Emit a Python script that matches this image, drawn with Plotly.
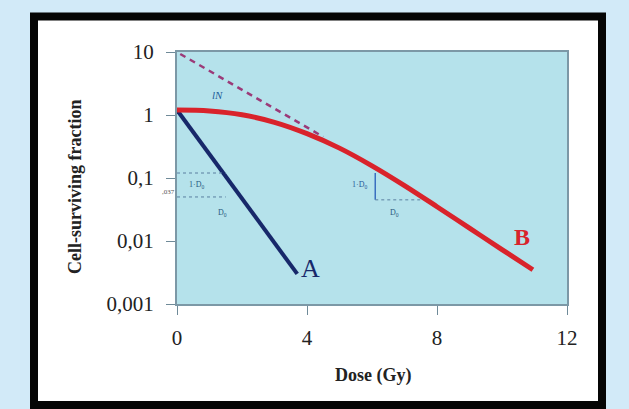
import math
import plotly.graph_objects as go

# ---- data ----
dose_a = [0.0, 3.7]
sf_a = [1.2, 0.003]

dose_b = [0, 1, 2, 3, 4, 5, 6, 7, 8, 9, 10, 10.95]
sf_b = [1.2, 1.159, 1.009, 0.766, 0.506, 0.298, 0.156, 0.0757, 0.035, 0.016, 0.00731, 0.0035]

dose_ext = [0.1, 4.5]
sf_ext = [9.3, 0.45]

x_ticks = [0, 4, 8, 12]
y_ticks = [0.001, 0.01, 0.1, 1, 10]
y_ticktext = ["0,001", "0,01", "0,1", "1", "10"]

W, H = 629, 409
L, R, T, B = 177, 567, 52, 304  # plot area in pixels


def px(xp):
    return (xp - L) / (R - L)


def py(yp):
    return (B - yp) / (B - T)


lg = math.log10

SERIF = "Liberation Serif, Times New Roman, serif"
LIGHT = "#d2eaf8"

fig = go.Figure()

fig.add_trace(go.Scatter(x=dose_ext, y=sf_ext, mode="lines",
                         line=dict(color="#9b3a78", width=2.5, dash="6px,5px"),
                         hoverinfo="skip", showlegend=False))
fig.add_trace(go.Scatter(x=dose_a, y=sf_a, mode="lines",
                         line=dict(color="#17286a", width=4),
                         showlegend=False))
fig.add_trace(go.Scatter(x=dose_b, y=sf_b, mode="lines", line_shape="spline",
                         line=dict(color="#d9232b", width=5, smoothing=1.0),
                         showlegend=False))

shapes = [
    dict(type="rect", xref="paper", yref="paper", x0=px(-5), x1=px(30), y0=py(415), y1=py(-5),
         fillcolor=LIGHT, line_width=0, layer="below"),
    dict(type="rect", xref="paper", yref="paper", x0=px(-5), x1=px(635), y0=py(13), y1=py(-5),
         fillcolor=LIGHT, line_width=0, layer="below"),
    dict(type="rect", xref="paper", yref="paper", x0=px(606), x1=px(635), y0=py(415), y1=py(-5),
         fillcolor=LIGHT, line_width=0, layer="below"),
    dict(type="rect", xref="paper", yref="paper", x0=px(34), x1=px(602), y0=py(405), y1=py(16.5),
         line=dict(color="#050505", width=8), fillcolor="rgba(0,0,0,0)", layer="above"),
    dict(type="line", xref="x", yref="y", x0=6.1, x1=6.1, y0=0.045, y1=0.12,
         line=dict(color="#3a6fc0", width=1.5)),
    dict(type="line", xref="x", yref="y", x0=6.1, x1=7.5, y0=0.045, y1=0.045,
         line=dict(color="#5a7fa0", width=1, dash="dot")),
    dict(type="line", xref="x", yref="y", x0=0, x1=1.5, y0=0.12, y1=0.12,
         line=dict(color="#5a7fa0", width=1, dash="dot")),
    dict(type="line", xref="x", yref="y", x0=0, x1=1.5, y0=0.05, y1=0.05,
         line=dict(color="#5a7fa0", width=1, dash="dot")),
]

annotations = [
    dict(x=4.1, y=lg(0.0037), text="A", showarrow=False, xanchor="center", yanchor="middle",
         font=dict(family=SERIF, size=26, color="#17286a")),
    dict(x=10.6, y=lg(0.0115), text="<b>B</b>", showarrow=False, xanchor="center", yanchor="middle",
         font=dict(family=SERIF, size=24, color="#d9232b")),
    dict(x=1.25, y=lg(2.1), text="<i>lN</i>", showarrow=False,
         font=dict(family=SERIF, size=11, color="#1f5f9a")),
    dict(x=0.6, y=lg(0.078), text="1·D<sub>0</sub>", showarrow=False,
         font=dict(family=SERIF, size=8, color="#2a5a80")),
    dict(x=1.4, y=lg(0.028), text="D<sub>0</sub>", showarrow=False,
         font=dict(family=SERIF, size=8, color="#2a5a80")),
    dict(x=5.6, y=lg(0.078), text="1·D<sub>0</sub>", showarrow=False,
         font=dict(family=SERIF, size=8, color="#2a5a9a")),
    dict(x=6.7, y=lg(0.028), text="D<sub>0</sub>", showarrow=False,
         font=dict(family=SERIF, size=8, color="#2a5a80")),
    dict(xref="paper", yref="paper", x=px(160), y=py(192), text=",037", showarrow=False,
         font=dict(family=SERIF, size=7, color="#555")),
    dict(xref="paper", yref="paper", x=px(373), y=py(376), text="<b>Dose (Gy)</b>",
         showarrow=False, xanchor="center", yanchor="middle",
         font=dict(family=SERIF, size=18, color="#222")),
    dict(xref="paper", yref="paper", x=px(75), y=py(187), text="<b>Cell-surviving fraction</b>",
         showarrow=False, xanchor="center", yanchor="middle", textangle=-90,
         font=dict(family=SERIF, size=18, color="#222")),
]

fig.update_layout(
    width=W, height=H,
    margin=dict(l=L, r=W - R, t=T, b=H - B),
    paper_bgcolor="white",
    plot_bgcolor="#b5e2eb",
    shapes=shapes,
    annotations=annotations,
    showlegend=False,
    xaxis=dict(range=[0, 12], tickvals=x_ticks, ticks="outside", ticklen=9, tickcolor="#6f8a98",
               tickfont=dict(family=SERIF, size=21, color="#222"), ticklabelstandoff=5,
               showgrid=False, zeroline=False, showline=True, linecolor="#7c98a6", linewidth=2,
               mirror=True),
    yaxis=dict(type="log", range=[-3, 1], tickvals=y_ticks, ticktext=y_ticktext,
               ticks="outside", ticklen=9, tickcolor="#6f8a98", ticklabelstandoff=8,
               tickfont=dict(family=SERIF, size=21, color="#222"),
               showgrid=False, zeroline=False, showline=True, linecolor="#7c98a6", linewidth=2,
               mirror=True),
)

fig.write_html("out.html")
